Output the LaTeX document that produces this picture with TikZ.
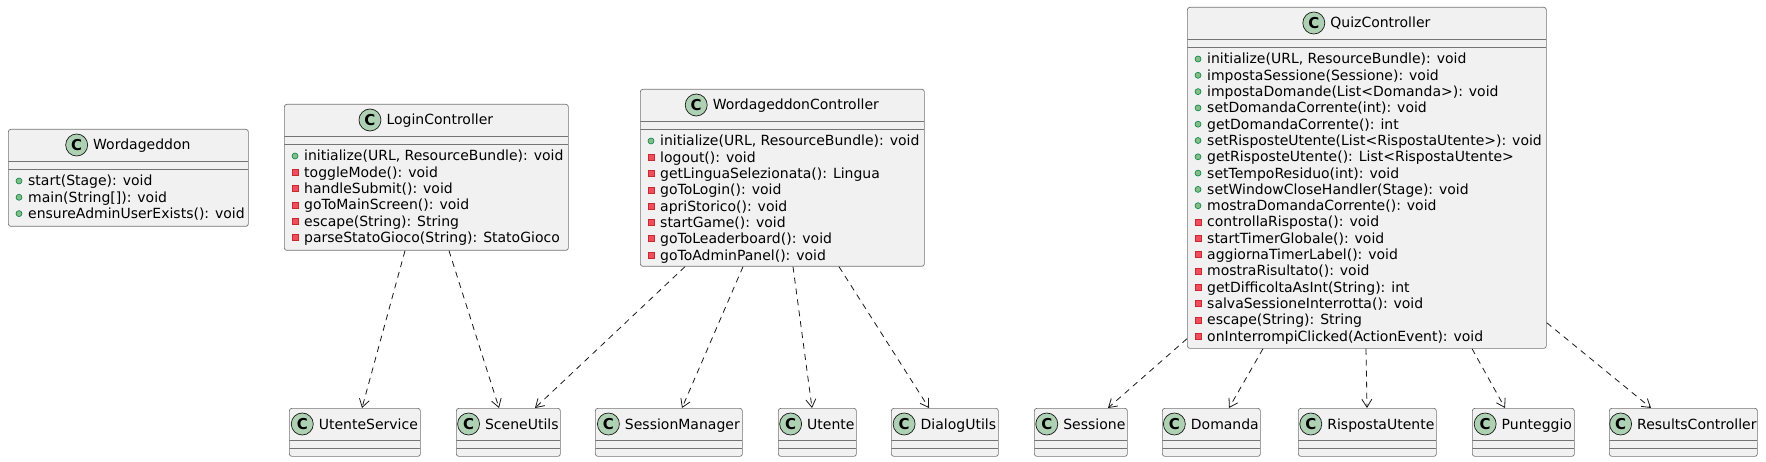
\documentclass[tikz,border=0pt]{standalone}
\usepackage{fontspec}
\setmainfont{DejaVu Sans}
\usetikzlibrary{positioning,calc,arrows.meta}

\definecolor{boxfill}{HTML}{F1F1F1}
\definecolor{boxline}{HTML}{181818}
\definecolor{iconfill}{HTML}{ADD1B2}
\definecolor{pubfill}{HTML}{84BE84}
\definecolor{publine}{HTML}{038048}
\definecolor{privfill}{HTML}{F24D5C}
\definecolor{privline}{HTML}{C82930}

\begin{document}
\begin{tikzpicture}[x=1pt,y=-1pt,>={Straight Barb[length=8pt,width=10pt]},
    class box/.style={draw=boxline!60,fill=boxfill,line width=0.7pt,rounded corners=2.5pt,
      anchor=north west,inner sep=0pt,
      path picture={\draw[boxline!60,line width=0.7pt]
        ([yshift=-32pt]path picture bounding box.north west) -- ([yshift=-32pt]path picture bounding box.north east)
        ([yshift=-40pt]path picture bounding box.north west) -- ([yshift=-40pt]path picture bounding box.north east);}},
    class name/.style={anchor=base,inner sep=0pt,text height=10pt,text depth=0pt,
      font=\fontsize{14pt}{16pt}\selectfont},
    class icon/.style={circle,draw=boxline,fill=iconfill,line width=0.7pt,minimum size=22pt,
      inner sep=0pt,font=\bfseries\fontsize{15pt}{15pt}\selectfont},
    member/.style={anchor=base west,inner sep=0pt,font=\fontsize{14pt}{16pt}\selectfont},
    pub/.style={circle,draw=publine,fill=pubfill,line width=0.6pt,minimum size=6pt,inner sep=0pt},
    priv/.style={rectangle,draw=privline,fill=privfill,line width=0.6pt,minimum size=6pt,inner sep=0pt},
    dep/.style={->,draw=boxline,line width=0.8pt,dash pattern=on 6pt off 5pt}]

  \useasboundingbox (0,0) rectangle (1766,462);

  % Wordageddon
  \node[class box,minimum width=240pt,minimum height=97pt] (app) at (8,129) {};
  \node[class name] (app-t) at ([xshift=13.5pt,yshift=-21pt]app.north) {Wordageddon};
  \node[class icon,left=5pt of app-t] (app-c) {C};
  \foreach \v/\m [count=\i] in {pub/{start(Stage): void}, pub/{main(String[]): void},
      pub/{ensureAdminUserExists(): void}}{
    \node[\v] (app-i\i) at ($(app.north west)+(11,35.7+16.3*\i)$) {};
    \node[member] (app-m\i) at ($(app.north west)+(20,40.7+16.3*\i)$) {\m};
  }

  % LoginController
  \node[class box,minimum width=284pt,minimum height=146pt] (login) at (284,104) {};
  \node[class name] (login-t) at ([xshift=13.5pt,yshift=-21pt]login.north) {LoginController};
  \node[class icon,left=5pt of login-t] (login-c) {C};
  \foreach \v/\m [count=\i] in {pub/{initialize(URL, ResourceBundle): void},
      priv/{toggleMode(): void}, priv/{handleSubmit(): void}, priv/{goToMainScreen(): void},
      priv/{escape(String): String}, priv/{parseStatoGioco(String): StatoGioco}}{
    \node[\v] (login-i\i) at ($(login.north west)+(11,35.7+16.3*\i)$) {};
    \node[member] (login-m\i) at ($(login.north west)+(20,40.7+16.3*\i)$) {\m};
  }

  % WordageddonController
  \node[class box,minimum width=284pt,minimum height=177pt] (wctrl) at (640,89) {};
  \node[class name] (wctrl-t) at ([xshift=13.5pt,yshift=-21pt]wctrl.north) {WordageddonController};
  \node[class icon,left=5pt of wctrl-t] (wctrl-c) {C};
  \foreach \v/\m [count=\i] in {pub/{initialize(URL, ResourceBundle): void},
      priv/{logout(): void}, priv/{getLinguaSelezionata(): Lingua}, priv/{goToLogin(): void},
      priv/{apriStorico(): void}, priv/{startGame(): void}, priv/{goToLeaderboard(): void},
      priv/{goToAdminPanel(): void}}{
    \node[\v] (wctrl-i\i) at ($(wctrl.north west)+(11,35.7+16.3*\i)$) {};
    \node[member] (wctrl-m\i) at ($(wctrl.north west)+(20,40.7+16.3*\i)$) {\m};
  }

  % QuizController
  \node[class box,minimum width=359pt,minimum height=341pt] (quiz) at (1187,7) {};
  \node[class name] (quiz-t) at ([xshift=13.5pt,yshift=-21pt]quiz.north) {QuizController};
  \node[class icon,left=5pt of quiz-t] (quiz-c) {C};
  \foreach \v/\m [count=\i] in {pub/{initialize(URL, ResourceBundle): void},
      pub/{impostaSessione(Sessione): void}, pub/{impostaDomande(List<Domanda>): void},
      pub/{setDomandaCorrente(int): void}, pub/{getDomandaCorrente(): int},
      pub/{setRisposteUtente(List<RispostaUtente>): void},
      pub/{getRisposteUtente(): List<RispostaUtente>}, pub/{setTempoResiduo(int): void},
      pub/{setWindowCloseHandler(Stage): void}, pub/{mostraDomandaCorrente(): void},
      priv/{controllaRisposta(): void}, priv/{startTimerGlobale(): void},
      priv/{aggiornaTimerLabel(): void}, priv/{mostraRisultato(): void},
      priv/{getDifficoltaAsInt(String): int}, priv/{salvaSessioneInterrotta(): void},
      priv/{escape(String): String}, priv/{onInterrompiClicked(ActionEvent): void}}{
    \node[\v] (quiz-i\i) at ($(quiz.north west)+(11,35.7+16.3*\i)$) {};
    \node[member] (quiz-m\i) at ($(quiz.north west)+(20,40.7+16.3*\i)$) {\m};
  }

  % used classes
  \foreach \n/\x/\w/\t in {usvc/289/131/UtenteService, scene/456/104/SceneUtils,
      smgr/595/147/SessionManager, utente/778/78/Utente, dlg/891/107/DialogUtils,
      sess/1034/93/Sessione, dom/1162/98/Domanda, risp/1298/138/RispostaUtente,
      punt/1472/102/Punteggio, res/1609/148/ResultsController}{
    \node[class box,minimum width=\w pt,minimum height=48pt] (\n) at (\x,408) {};
    \node[class name] (\n-t) at ([xshift=13.5pt,yshift=-21pt]\n.north) {\t};
    \node[class icon,left=5pt of \n-t] (\n-c) {C};
  }

  % dependencies
  \draw[dep] ([xshift=121pt]login.south west) -- ([xshift=73pt]usvc.north west);
  \draw[dep] ([xshift=165pt]login.south west) -- ([xshift=43pt]scene.north west);
  \draw[dep] ([xshift=45pt]wctrl.south west) -- ([xshift=79pt]scene.north west);
  \draw[dep] ([xshift=103pt]wctrl.south west) -- ([xshift=87pt]smgr.north west);
  \draw[dep] ([xshift=153pt]wctrl.south west) -- ([xshift=34pt]utente.north west);
  \draw[dep] ([xshift=199pt]wctrl.south west) -- ([xshift=38pt]dlg.north west);
  \draw[dep] ([yshift=10pt]quiz.south west) -- ([xshift=74pt]sess.north west);
  \draw[dep] ([xshift=76pt]quiz.south west) -- ([xshift=67pt]dom.north west);
  \draw[dep] ([xshift=179pt]quiz.south west) -- ([xshift=69pt]risp.north west);
  \draw[dep] ([xshift=285pt]quiz.south west) -- ([xshift=33pt]punt.north west);
  \draw[dep] ([yshift=26pt]quiz.south east) -- ([xshift=42pt]res.north west);

\end{tikzpicture}
\end{document}
